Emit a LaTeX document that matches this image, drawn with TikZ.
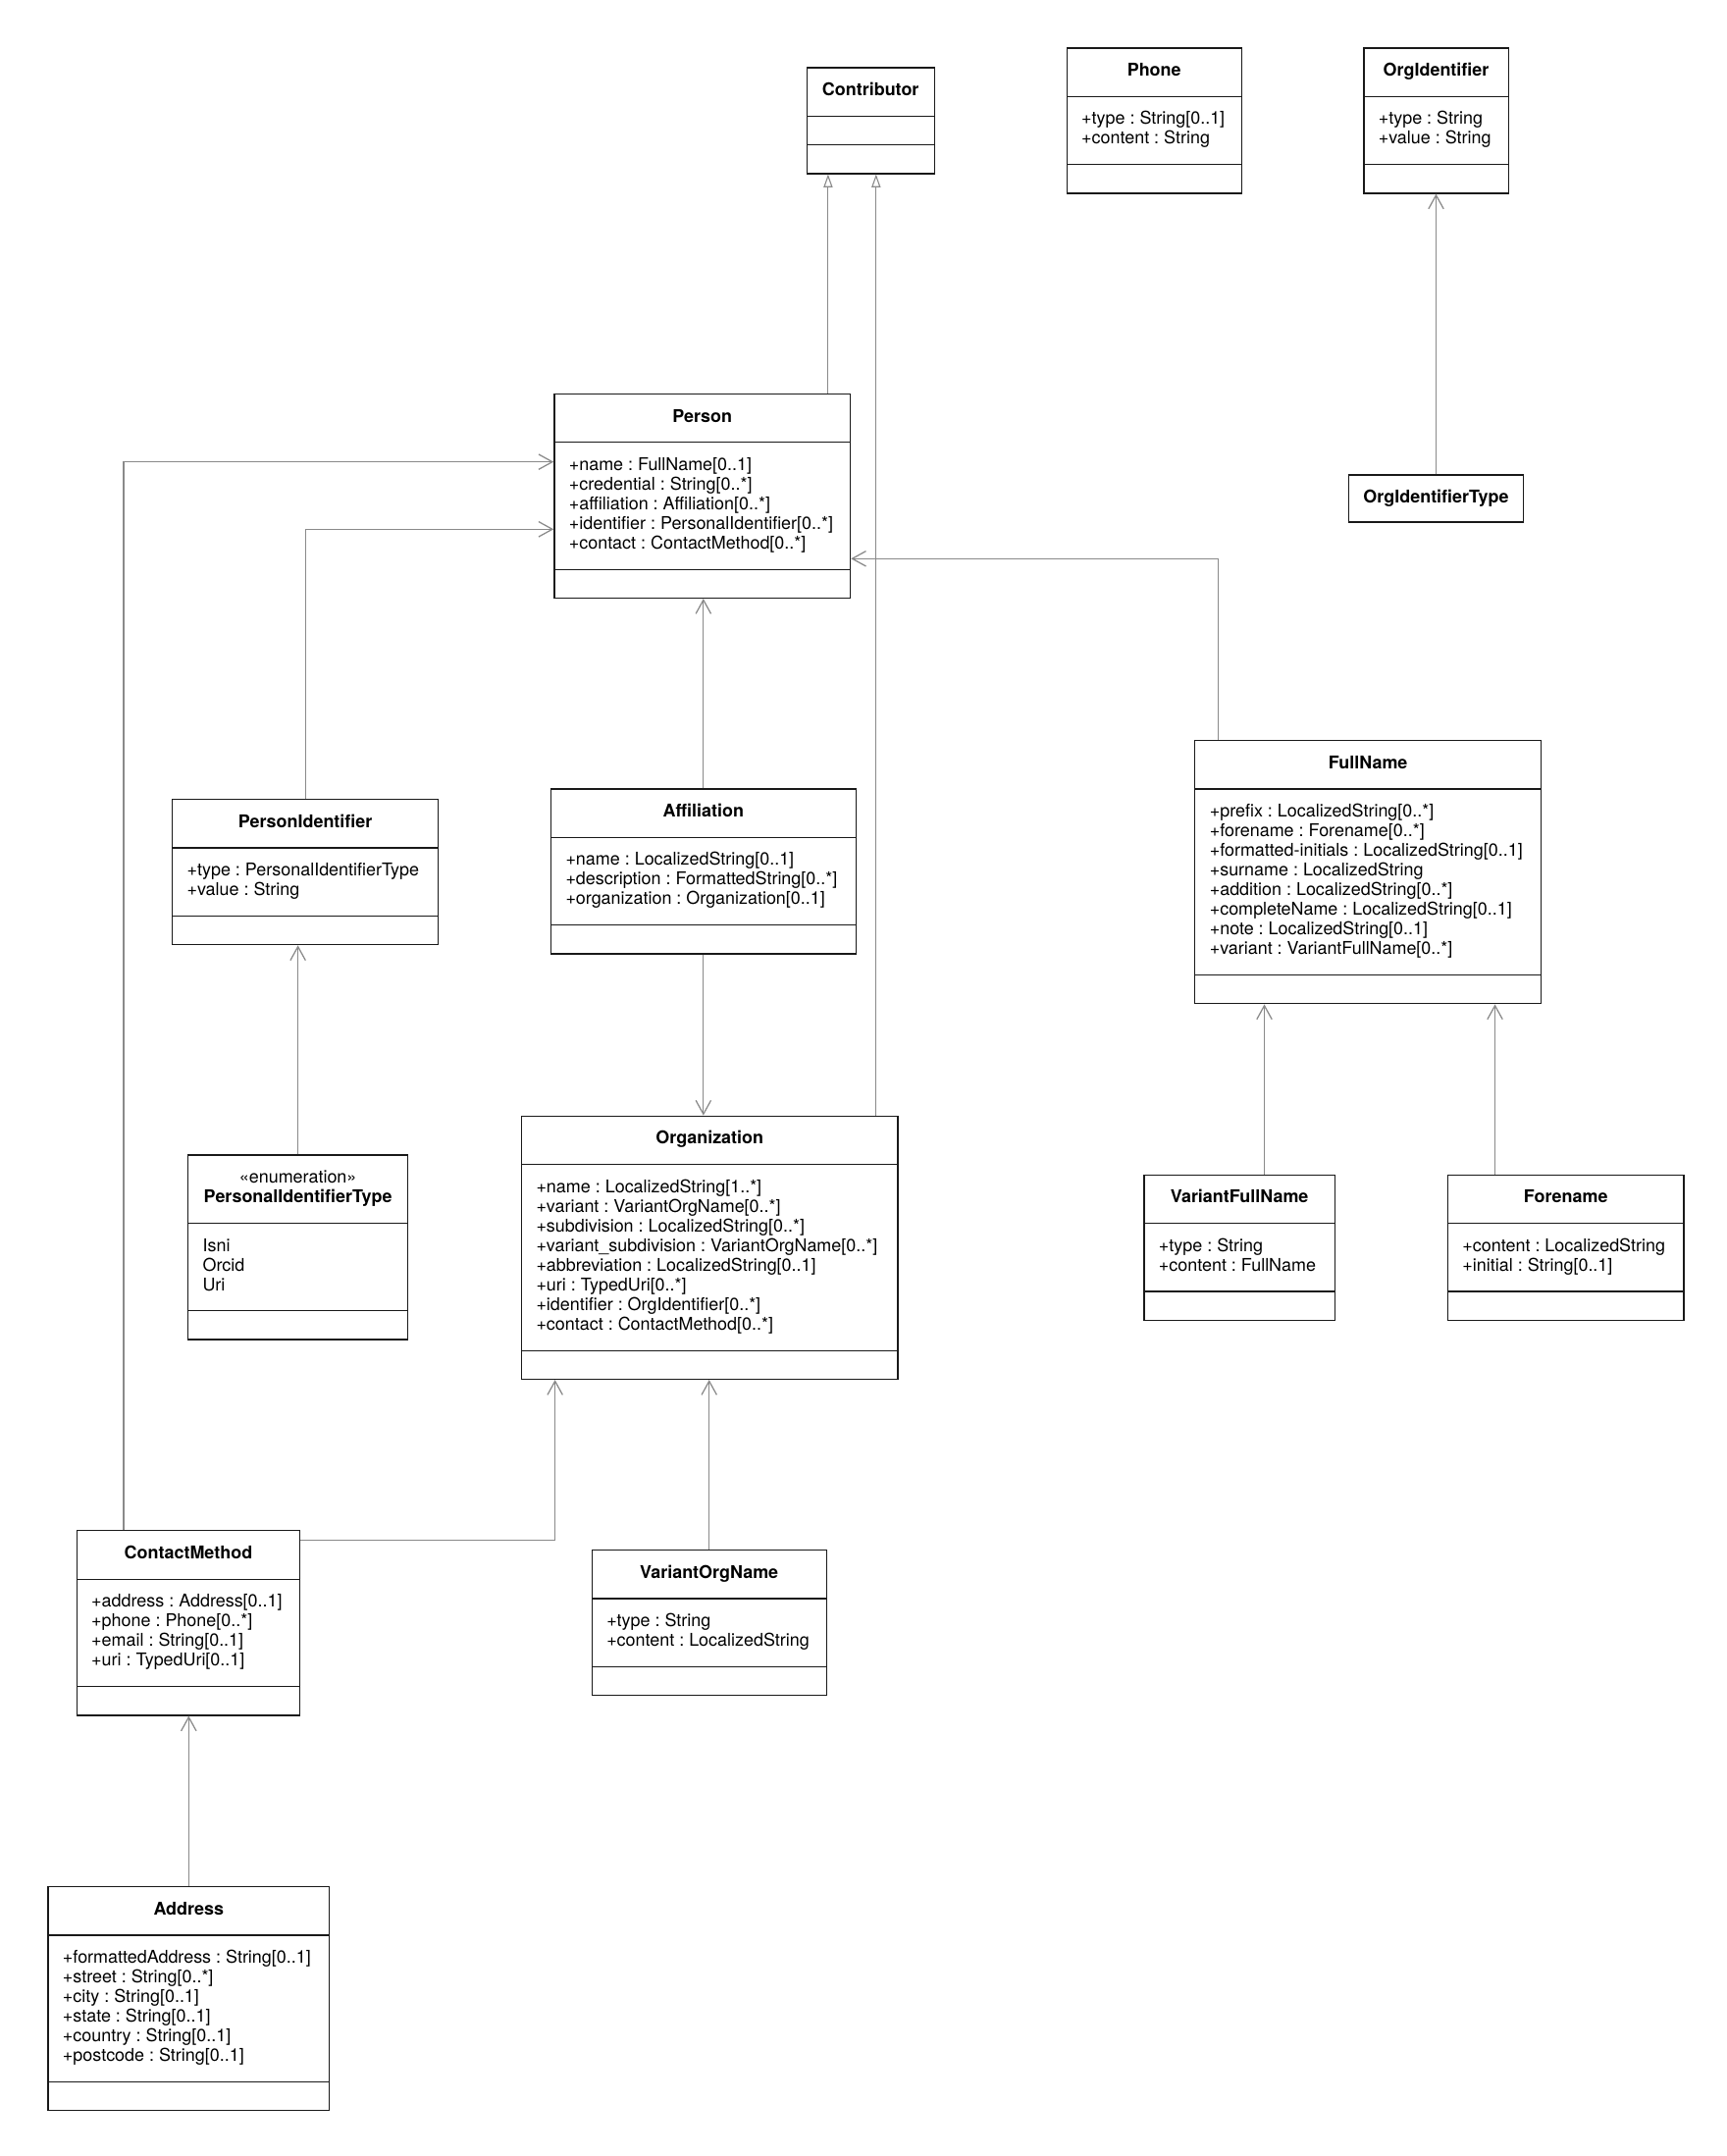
\documentclass[tikz,border=0pt]{standalone}
\usepackage{fontspec}
\setmainfont{TeX Gyre Heros}
\usetikzlibrary{positioning, arrows.meta, shapes.multipart}
\definecolor{linkgray}{RGB}{138,138,138}
\newcommand{\attrlist}[1]{\begin{tabular}{@{}l@{}}#1\end{tabular}}
\newcommand{\nopart}{\kern1pt}
\frenchspacing

\begin{document}
\begin{tikzpicture}[
  x=1pt, y=-1pt,
  every node/.style={font=\fontsize{12.8}{14.3}\selectfont}
]
\tikzset{
  cls/.style   ={rectangle split, rectangle split parts=3, draw=black!90,
                 line width=0.9pt, fill=white, anchor=north west,
                 inner xsep=10.7pt, inner ysep=10pt,
                 rectangle split part align={center,left,left}},
  plain/.style ={draw=black!90, line width=0.9pt, fill=white,
                 anchor=north west, inner xsep=10.7pt, inner ysep=10pt},
  assoc/.style ={draw=linkgray, line width=0.8pt,
                 -{Straight Barb[length=10pt, width=11pt, line width=0.9pt]}},
  gen/.style   ={draw=linkgray, line width=0.8pt,
                 -{Triangle[open, length=9.5pt, width=6.5pt, fill=white]}}
}
\useasboundingbox (0,0) rectangle (1256,1568);

%% ----- Top row -----
\node[cls, minimum width=92.7pt] (contributor) at (586.4,48.8)
  {\strut\textbf{Contributor}\nodepart{two}\nopart\nodepart{three}\nopart};
\node[cls, minimum width=127pt] (phone) at (775.5,34.5)
  {\strut\textbf{Phone}
   \nodepart{two}\attrlist{+type : String[0..1]\\ +content : String}
   \nodepart{three}\nopart};
\node[cls, minimum width=105.1pt] (orgid) at (991.5,34.5)
  {\strut\textbf{OrgIdentifier}
   \nodepart{two}\attrlist{+type : String\\ +value : String}
   \nodepart{three}\nopart};
\node[plain, minimum width=123.7pt, below=204pt of orgid] (orgidtype)
  {\strut\textbf{OrgIdentifierType}};

%% ----- Person and its parts -----
\node[cls, minimum width=215.3pt] (person) at (402.7,286)
  {\strut\textbf{Person}
   \nodepart{two}\attrlist{+name : FullName[0..1]\\
     +credential : String[0..*]\\ +affiliation : Affiliation[0..*]\\
     +identifier : PersonalIdentifier[0..*]\\ +contact : ContactMethod[0..*]}
   \nodepart{three}\nopart};
\node[cls, minimum width=193.4pt] (personid) at (124.9,581)
  {\strut\textbf{PersonIdentifier}
   \nodepart{two}\attrlist{+type : PersonalIdentifierType\\ +value : String}
   \nodepart{three}\nopart};
\node[cls, minimum width=221.7pt] (affiliation) at (400.3,573.3)
  {\strut\textbf{Affiliation}
   \nodepart{two}\attrlist{+name : LocalizedString[0..1]\\
     +description : FormattedString[0..*]\\ +organization : Organization[0..1]}
   \nodepart{three}\nopart};
\node[cls, minimum width=251.7pt] (fullname) at (868.7,538.1)
  {\strut\textbf{FullName}
   \nodepart{two}\attrlist{+prefix : LocalizedString[0..*]\\
     +forename : Forename[0..*]\\ +formatted-initials : LocalizedString[0..1]\\
     +surname : LocalizedString\\ +addition : LocalizedString[0..*]\\
     +completeName : LocalizedString[0..1]\\ +note : LocalizedString[0..1]\\
     +variant : VariantFullName[0..*]}
   \nodepart{three}\nopart};

%% ----- Middle row -----
\node[cls, minimum width=273.6pt] (organization) at (378.9,811.2)
  {\strut\textbf{Organization}
   \nodepart{two}\attrlist{+name : LocalizedString[1..*]\\
     +variant : VariantOrgName[0..*]\\ +subdivision : LocalizedString[0..*]\\
     +variant\_subdivision : VariantOrgName[0..*]\\
     +abbreviation : LocalizedString[0..1]\\ +uri : TypedUri[0..*]\\
     +identifier : OrgIdentifier[0..*]\\ +contact : ContactMethod[0..*]}
   \nodepart{three}\nopart};
\node[cls, minimum width=159.9pt] (pitype) at (136.3,839.6)
  {\begin{tabular}{@{}c@{}}«enumeration»\\ \textbf{PersonalIdentifierType}\end{tabular}
   \nodepart{two}\attrlist{Isni\\ Orcid\\ Uri}
   \nodepart{three}\nopart};
\node[cls, minimum width=138.7pt] (vfn) at (831.7,854)
  {\strut\textbf{VariantFullName}
   \nodepart{two}\attrlist{+type : String\\ +content : FullName}
   \nodepart{three}\nopart};
\node[cls, minimum width=171.6pt, right=81.3pt of vfn.north east,
      anchor=north west] (forename)
  {\strut\textbf{Forename}
   \nodepart{two}\attrlist{+content : LocalizedString\\ +initial : String[0..1]}
   \nodepart{three}\nopart};

%% ----- Bottom -----
\node[cls, minimum width=162.3pt] (contact) at (55.4,1112.8)
  {\strut\textbf{ContactMethod}
   \nodepart{two}\attrlist{+address : Address[0..1]\\ +phone : Phone[0..*]\\
     +email : String[0..1]\\ +uri : TypedUri[0..1]}
   \nodepart{three}\nopart};
\node[cls, minimum width=170.5pt] (von) at (430.1,1127)
  {\strut\textbf{VariantOrgName}
   \nodepart{two}\attrlist{+type : String\\ +content : LocalizedString}
   \nodepart{three}\nopart};
\node[cls, minimum width=204.6pt] (address) at (34.5,1371.8)
  {\strut\textbf{Address}
   \nodepart{two}\attrlist{+formattedAddress : String[0..1]\\
     +street : String[0..*]\\ +city : String[0..1]\\ +state : String[0..1]\\
     +country : String[0..1]\\ +postcode : String[0..1]}
   \nodepart{three}\nopart};

%% ----- Generalizations to Contributor -----
\draw[gen] ([xshift=91.5pt]person.north)
  -- ([xshift=91.5pt]person.north |- contributor.south);
\draw[gen] ([xshift=-16.2pt]organization.north east)
  -- ([xshift=-16.2pt]organization.north east |- contributor.south);

%% ----- Associations -----
\draw[assoc] ([xshift=34.5pt]contact.north west)
  |- ([yshift=-49.9pt]person.north west);
\draw[assoc] (personid.north) |- ([yshift=-98.9pt]person.north west);
\draw[assoc] (affiliation.north) -- (affiliation.north |- person.south);
\draw[assoc] (affiliation.south) -- (affiliation.south |- organization.north);
\draw[assoc] ([xshift=17.4pt]fullname.north west)
  |- ([yshift=-120.3pt]person.north east);
\draw[assoc] (orgidtype.north) -- (orgid.south);
\draw[assoc] (pitype.north) -- (pitype.north |- personid.south);
\draw[assoc] ([xshift=18.1pt]vfn.north)
  -- ([xshift=18.1pt]vfn.north |- fullname.south);
\draw[assoc] ([xshift=-51.5pt]forename.north)
  -- ([xshift=-51.5pt]forename.north |- fullname.south);
\draw[assoc] (von.north) -- (von.north |- organization.south);
\draw[assoc] ([yshift=-7.1pt]contact.north east)
  -| ([xshift=24.8pt]organization.south west);
\draw[assoc] (address.north) -- (address.north |- contact.south);

\end{tikzpicture}
\end{document}
